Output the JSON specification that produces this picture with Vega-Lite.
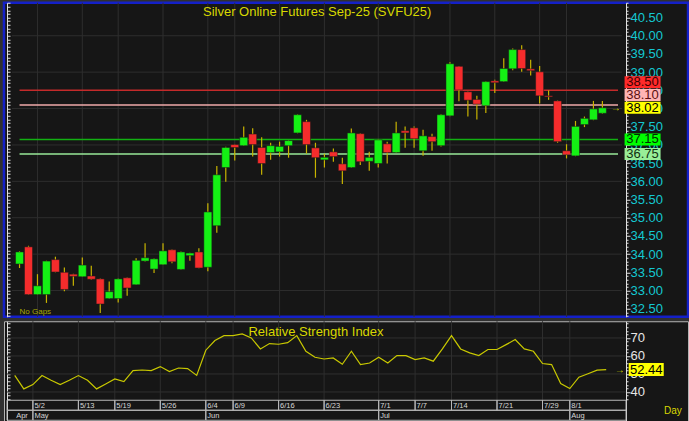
{
  "$schema": "https://vega.github.io/schema/vega-lite/v6.json",
  "background": "#303030",
  "padding": {"left": 2, "top": 0.75, "right": 3, "bottom": 0},
  "spacing": 1.5,
  "config": {
    "view": {"stroke": null},
    "axis": {"labelFont": "Liberation Sans"},
    "text": {"font": "Liberation Sans"}
  },
  "datasets": {
    "candles": [
      {"i":0,"o":33.73,"h":34.08,"l":33.62,"c":34.06},
      {"i":1,"o":34.20,"h":34.23,"l":32.88,"c":32.89},
      {"i":2,"o":32.89,"h":33.45,"l":32.88,"c":33.13},
      {"i":3,"o":32.89,"h":33.82,"l":32.66,"c":33.81},
      {"i":4,"o":33.85,"h":33.93,"l":33.50,"c":33.51},
      {"i":5,"o":33.50,"h":33.63,"l":32.98,"c":33.03},
      {"i":6,"o":33.45,"h":33.46,"l":33.13,"c":33.39},
      {"i":7,"o":33.38,"h":33.91,"l":33.37,"c":33.70},
      {"i":8,"o":33.40,"h":33.68,"l":33.30,"c":33.31},
      {"i":9,"o":33.32,"h":33.33,"l":32.38,"c":32.63},
      {"i":10,"o":32.78,"h":33.25,"l":32.77,"c":32.97},
      {"i":11,"o":32.78,"h":33.33,"l":32.67,"c":33.32},
      {"i":12,"o":33.35,"h":33.36,"l":32.86,"c":33.07},
      {"i":13,"o":33.16,"h":33.89,"l":33.15,"c":33.83},
      {"i":14,"o":33.81,"h":34.30,"l":33.80,"c":33.90},
      {"i":15,"o":33.59,"h":33.88,"l":33.48,"c":33.87},
      {"i":16,"o":33.71,"h":34.30,"l":33.70,"c":34.09},
      {"i":17,"o":34.12,"h":34.13,"l":33.75,"c":33.79},
      {"i":18,"o":33.58,"h":34.07,"l":33.57,"c":34.06},
      {"i":19,"o":33.96,"h":34.04,"l":33.82,"c":34.03},
      {"i":20,"o":34.06,"h":34.16,"l":33.61,"c":33.62},
      {"i":21,"o":33.64,"h":35.40,"l":33.53,"c":35.16},
      {"i":22,"o":34.78,"h":36.42,"l":34.59,"c":36.18},
      {"i":23,"o":36.38,"h":36.95,"l":35.99,"c":36.93},
      {"i":24,"o":37.01,"h":37.02,"l":36.57,"c":36.93},
      {"i":25,"o":36.98,"h":37.51,"l":36.97,"c":37.21},
      {"i":26,"o":37.30,"h":37.46,"l":36.68,"c":37.01},
      {"i":27,"o":36.93,"h":37.21,"l":36.18,"c":36.49},
      {"i":28,"o":36.79,"h":37.06,"l":36.59,"c":36.98},
      {"i":29,"o":36.81,"h":37.09,"l":36.68,"c":36.96},
      {"i":30,"o":36.98,"h":37.13,"l":36.65,"c":37.12},
      {"i":31,"o":37.33,"h":37.84,"l":37.32,"c":37.83},
      {"i":32,"o":37.64,"h":37.69,"l":36.76,"c":37.01},
      {"i":33,"o":36.92,"h":37.06,"l":36.10,"c":36.65},
      {"i":34,"o":36.59,"h":36.76,"l":36.38,"c":36.66},
      {"i":35,"o":36.81,"h":36.90,"l":36.54,"c":36.68},
      {"i":36,"o":36.48,"h":36.65,"l":35.93,"c":36.29},
      {"i":37,"o":36.38,"h":37.45,"l":36.37,"c":37.33},
      {"i":38,"o":37.31,"h":37.32,"l":36.45,"c":36.54},
      {"i":39,"o":36.55,"h":36.81,"l":36.29,"c":36.66},
      {"i":40,"o":36.49,"h":37.15,"l":36.38,"c":37.14},
      {"i":41,"o":37.03,"h":37.09,"l":36.49,"c":36.79},
      {"i":42,"o":36.79,"h":37.64,"l":36.78,"c":37.33},
      {"i":43,"o":37.39,"h":37.51,"l":36.92,"c":37.33},
      {"i":44,"o":37.47,"h":37.51,"l":36.92,"c":37.17},
      {"i":45,"o":36.84,"h":37.42,"l":36.70,"c":37.25},
      {"i":46,"o":37.23,"h":37.31,"l":36.84,"c":37.09},
      {"i":47,"o":36.98,"h":37.84,"l":36.96,"c":37.83},
      {"i":48,"o":37.80,"h":39.27,"l":37.79,"c":39.23},
      {"i":49,"o":39.16,"h":39.17,"l":38.20,"c":38.51},
      {"i":50,"o":38.46,"h":38.47,"l":37.78,"c":38.23},
      {"i":51,"o":38.25,"h":38.35,"l":37.70,"c":38.12},
      {"i":52,"o":38.08,"h":38.75,"l":37.88,"c":38.74},
      {"i":53,"o":38.76,"h":38.79,"l":38.43,"c":38.71},
      {"i":54,"o":38.74,"h":39.38,"l":38.73,"c":39.10},
      {"i":55,"o":39.09,"h":39.65,"l":39.05,"c":39.62},
      {"i":56,"o":39.62,"h":39.74,"l":39.01,"c":39.10},
      {"i":57,"o":39.09,"h":39.34,"l":38.91,"c":39.04},
      {"i":58,"o":39.01,"h":39.17,"l":38.14,"c":38.35},
      {"i":59,"o":38.35,"h":38.50,"l":38.24,"c":38.32},
      {"i":60,"o":38.21,"h":38.22,"l":37.06,"c":37.09},
      {"i":61,"o":36.84,"h":37.02,"l":36.63,"c":36.73},
      {"i":62,"o":36.70,"h":37.66,"l":36.69,"c":37.51},
      {"i":63,"o":37.56,"h":37.78,"l":37.49,"c":37.73},
      {"i":64,"o":37.69,"h":38.21,"l":37.68,"c":37.99},
      {"i":65,"o":37.87,"h":38.21,"l":37.86,"c":38.02}
    ],
    "rsi": [
      {"i":0,"v":49.2},{"i":1,"v":41.7},{"i":2,"v":44.1},{"i":3,"v":49.1},{"i":4,"v":46.5},
      {"i":5,"v":44.1},{"i":6,"v":46.5},{"i":7,"v":49.1},{"i":8,"v":46.5},{"i":9,"v":41.7},
      {"i":10,"v":44.4},{"i":11,"v":47.2},{"i":12,"v":45.8},{"i":13,"v":51.9},{"i":14,"v":52.2},
      {"i":15,"v":51.9},{"i":16,"v":54.1},{"i":17,"v":51.3},{"i":18,"v":53.3},{"i":19,"v":53.0},
      {"i":20,"v":49.2},{"i":21,"v":63.2},{"i":22,"v":68.6},{"i":23,"v":71.3},{"i":24,"v":71.3},
      {"i":25,"v":72.2},{"i":26,"v":70.0},{"i":27,"v":63.9},{"i":28,"v":66.9},{"i":29,"v":66.5},
      {"i":30,"v":67.4},{"i":31,"v":71.3},{"i":32,"v":62.6},{"i":33,"v":59.3},{"i":34,"v":58.3},
      {"i":35,"v":58.9},{"i":36,"v":55.4},{"i":37,"v":62.6},{"i":38,"v":55.2},{"i":39,"v":56.1},
      {"i":40,"v":59.3},{"i":41,"v":56.1},{"i":42,"v":60.2},{"i":43,"v":60.2},{"i":44,"v":58.0},
      {"i":45,"v":58.9},{"i":46,"v":57.1},{"i":47,"v":63.9},{"i":48,"v":71.3},{"i":49,"v":63.9},
      {"i":50,"v":61.7},{"i":51,"v":60.2},{"i":52,"v":63.6},{"i":53,"v":63.6},{"i":54,"v":66.3},
      {"i":55,"v":69.1},{"i":56,"v":63.9},{"i":57,"v":62.6},{"i":58,"v":55.8},{"i":59,"v":55.2},
      {"i":60,"v":44.7},{"i":61,"v":41.9},{"i":62,"v":48.2},{"i":63,"v":50.1},{"i":64,"v":52.1},
      {"i":65,"v":52.44}
    ],
    "dates": [
      {"row":"d","start":-0.846,"end":2,"li":0,"label":""},
      {"row":"d","start":2,"end":7,"li":2,"label":"5/2"},
      {"row":"d","start":7,"end":11,"li":7,"label":"5/13"},
      {"row":"d","start":11,"end":16,"li":11,"label":"5/19"},
      {"row":"d","start":16,"end":21,"li":16,"label":"5/26"},
      {"row":"d","start":21,"end":24,"li":21,"label":"6/4"},
      {"row":"d","start":24,"end":29,"li":24,"label":"6/9"},
      {"row":"d","start":29,"end":34,"li":29,"label":"6/16"},
      {"row":"d","start":34,"end":40,"li":34,"label":"6/23"},
      {"row":"d","start":40,"end":44,"li":40,"label":"7/1"},
      {"row":"d","start":44,"end":48,"li":44,"label":"7/7"},
      {"row":"d","start":48,"end":53,"li":48,"label":"7/14"},
      {"row":"d","start":53,"end":58,"li":53,"label":"7/21"},
      {"row":"d","start":58,"end":61,"li":58,"label":"7/29"},
      {"row":"d","start":61,"end":67.18,"li":61,"label":"8/1"},
      {"row":"m","start":-0.846,"end":2,"li":0,"label":"Apr"},
      {"row":"m","start":2,"end":21,"li":2,"label":"May"},
      {"row":"m","start":21,"end":40,"li":21,"label":"Jun"},
      {"row":"m","start":40,"end":61,"li":40,"label":"Jul"},
      {"row":"m","start":61,"end":67.18,"li":61,"label":"Aug"}
    ],
    "gridP": [{"p":33},{"p":34},{"p":35},{"p":36},{"p":37},{"p":38},{"p":39},{"p":40}],
    "gridR": [{"v":40},{"v":50},{"v":60},{"v":70}],
    "levels": [
      {"name":"R2","v":38.50},
      {"name":"R1","v":38.10},
      {"name":"Last","v":38.02},
      {"name":"S1","v":37.15},
      {"name":"S2","v":36.75}
    ],
    "titles": [
      {"panel":"main","text":"Silver  Online  Futures  Sep-25  (SVFU25)"},
      {"panel":"rsi","text":"Relative  Strength  Index"}
    ]
  },
  "resolve": {"scale": {"x": "independent", "y": "independent", "color": "independent", "fill": "independent", "stroke": "independent"}},
  "vconcat": [
    {
      "width": 684,
      "height": 314,
      "view": {"fill": "#161616", "stroke": "#1420C8", "strokeWidth": 2.5},
      "resolve": {"axis": {"y": "independent"}},
      "layer": [
        {
          "data": {"name": "gridP"},
          "mark": {"type": "rule", "color": "#2E2E2E", "strokeWidth": 1},
          "encoding": {
            "y": {"field": "p", "type": "quantitative",
              "scale": {"domain": [32.2802, 40.9066], "nice": false, "zero": false},
              "axis": {"orient": "right", "offset": -62, "title": null, "grid": false,
                "values": [32.5,33.0,33.5,34.0,34.5,35.0,35.5,36.0,36.5,37.0,37.5,38.0,38.5,39.0,39.5,40.0,40.5],
                "format": ".2f",
                "labelColor": "#14C8D2", "labelFontSize": 13, "labelPadding": 0, "labelOverlap": false, "labelFlush": false, "labelBound": false,
                "tickSize": 4, "tickColor": "#E0E0E0", "domainColor": "#E0E0E0", "domainWidth": 1}},
            "x": {"datum": -0.846, "type": "quantitative", "scale": {"domain": [-1.1758, 73.989], "nice": false, "zero": false}, "axis": null},
            "x2": {"datum": 67.18}
          }
        },
        {
          "data": {"name": "dates"},
          "transform": [{"filter": "datum.row == 'd' && datum.label != ''"}],
          "mark": {"type": "rule", "color": "#2E2E2E", "strokeWidth": 1},
          "encoding": {"x": {"field": "li", "type": "quantitative"}}
        },
        {
          "data": {"name": "levels"},
          "transform": [{"filter": "datum.name != 'Last'"}],
          "mark": {"type": "rule", "strokeWidth": 1.5},
          "encoding": {
            "y": {"field": "v", "type": "quantitative",
              "axis": {"orient": "right", "offset": -62, "title": null, "grid": false, "labels": false, "domain": false,
                "values": [32.3,32.4,32.6,32.7,32.8,32.9,33.1,33.2,33.3,33.4,33.6,33.7,33.8,33.9,34.1,34.2,34.3,34.4,34.6,34.7,34.8,34.9,35.1,35.2,35.3,35.4,35.6,35.7,35.8,35.9,36.1,36.2,36.3,36.4,36.6,36.7,36.8,36.9,37.1,37.2,37.3,37.4,37.6,37.7,37.8,37.9,38.1,38.2,38.3,38.4,38.6,38.7,38.8,38.9,39.1,39.2,39.3,39.4,39.6,39.7,39.8,39.9,40.1,40.2,40.3,40.4,40.6,40.7,40.8,40.9],
                "tickSize": 2, "tickColor": "#E0E0E0"}},
            "x": {"datum": 0},
            "x2": {"datum": 66.74},
            "stroke": {"field": "name", "type": "nominal", "legend": null,
              "scale": {"domain": ["R2","R1","S1","S2"], "range": ["#C42A2A","#F0AAAA","#12B012","#98E898"]}}
          }
        },
        {
          "data": {"name": "candles"},
          "mark": {"type": "rule", "color": "#C8B400", "strokeWidth": 1.2},
          "encoding": {
            "x": {"field": "i", "type": "quantitative"},
            "y": {"field": "l", "type": "quantitative",
              "axis": {"orient": "left", "offset": -3, "title": null, "grid": false, "labels": false,
                "values": [32.3,32.4,32.5,32.6,32.7,32.8,32.9,33.0,33.1,33.2,33.3,33.4,33.5,33.6,33.7,33.8,33.9,34.0,34.1,34.2,34.3,34.4,34.5,34.6,34.7,34.8,34.9,35.0,35.1,35.2,35.3,35.4,35.5,35.6,35.7,35.8,35.9,36.0,36.1,36.2,36.3,36.4,36.5,36.6,36.7,36.8,36.9,37.0,37.1,37.2,37.3,37.4,37.5,37.6,37.7,37.8,37.9,38.0,38.1,38.2,38.3,38.4,38.5,38.6,38.7,38.8,38.9,39.0,39.1,39.2,39.3,39.4,39.5,39.6,39.7,39.8,39.9,40.0,40.1,40.2,40.3,40.4,40.5,40.6,40.7,40.8,40.9],
                "tickSize": -3, "tickColor": "#E0E0E0", "domainColor": "#E0E0E0"}},
            "y2": {"field": "h"}
          }
        },
        {
          "data": {"name": "candles"},
          "mark": {"type": "bar", "width": 8, "orient": "vertical", "stroke": "#1A1A1A", "strokeWidth": 0.5},
          "encoding": {
            "x": {"field": "i", "type": "quantitative"},
            "y": {"field": "o", "type": "quantitative", "axis": null},
            "y2": {"field": "c"},
            "color": {"condition": {"test": "datum.c >= datum.o", "value": "#14F014"}, "value": "#F52C2C"}
          }
        },
        {
          "data": {"name": "levels"},
          "transform": [{"filter": "datum.name == 'R2'"}],
          "layer": [
            {"mark": {"type": "tick", "orient": "horizontal", "size": 36, "thickness": 12, "yOffset": -8, "opacity": 1},
             "encoding": {"x": {"datum": 69.48}, "y": {"field": "v", "type": "quantitative", "axis": null},
               "color": {"field": "name", "type": "nominal", "legend": null, "scale": {"domain": ["R2","R1","Last","S1","S2"], "range": ["#FF2A2A","#FFB4B4","#FFFF00","#00FF00","#98EE98"]}}}},
            {"mark": {"type": "text", "yOffset": -8, "fontSize": 13, "align": "center", "baseline": "middle"},
             "encoding": {"x": {"datum": 69.48}, "y": {"field": "v", "type": "quantitative", "axis": null},
               "text": {"field": "v", "type": "quantitative", "format": ".2f"},
               "fill": {"field": "name", "type": "nominal", "legend": null, "scale": {"domain": ["R2","R1","Last","S1","S2"], "range": ["#3A0000","#5A1010","#000000","#003000","#103010"]}}}}
          ]
        },
        {
          "data": {"name": "levels"},
          "transform": [{"filter": "datum.name == 'R1'"}],
          "layer": [
            {"mark": {"type": "tick", "orient": "horizontal", "size": 36, "thickness": 12, "yOffset": -10, "opacity": 1},
             "encoding": {"x": {"datum": 69.48}, "y": {"field": "v", "type": "quantitative", "axis": null},
               "color": {"field": "name", "type": "nominal", "legend": null}}},
            {"mark": {"type": "text", "yOffset": -10, "fontSize": 13, "align": "center", "baseline": "middle"},
             "encoding": {"x": {"datum": 69.48}, "y": {"field": "v", "type": "quantitative", "axis": null},
               "text": {"field": "v", "type": "quantitative", "format": ".2f"},
               "fill": {"field": "name", "type": "nominal", "legend": null}}}
          ]
        },
        {
          "data": {"name": "levels"},
          "transform": [{"filter": "datum.name == 'Last' || datum.name == 'S1' || datum.name == 'S2'"}],
          "layer": [
            {"mark": {"type": "tick", "orient": "horizontal", "size": 36, "thickness": 12, "opacity": 1},
             "encoding": {"x": {"datum": 69.48}, "y": {"field": "v", "type": "quantitative", "axis": null},
               "color": {"field": "name", "type": "nominal", "legend": null}}},
            {"mark": {"type": "text", "fontSize": 13, "align": "center", "baseline": "middle"},
             "encoding": {"x": {"datum": 69.48}, "y": {"field": "v", "type": "quantitative", "axis": null},
               "text": {"field": "v", "type": "quantitative", "format": ".2f"},
               "fill": {"field": "name", "type": "nominal", "legend": null}}}
          ]
        },
        {
          "data": {"name": "levels"},
          "transform": [{"filter": "datum.name == 'Last'"}],
          "mark": {"type": "text", "text": "→", "fontSize": 10, "color": "#D8D800", "align": "center", "baseline": "middle"},
          "encoding": {"x": {"datum": 66.5}, "y": {"field": "v", "type": "quantitative", "axis": null}}
        },
        {
          "data": {"name": "titles"},
          "transform": [{"filter": "datum.panel == 'main'"}],
          "mark": {"type": "text", "fontSize": 13, "color": "#D8D800", "align": "center", "baseline": "alphabetic"},
          "encoding": {"x": {"datum": 33.19}, "y": {"datum": 40.536, "axis": null}, "text": {"field": "text", "type": "nominal"}}
        },
        {
          "data": {"values": [{}]},
          "mark": {"type": "text", "text": "No  Gaps", "fontSize": 8, "color": "#A8A800", "align": "left", "baseline": "alphabetic"},
          "encoding": {"x": {"datum": 0}, "y": {"datum": 32.349, "axis": null}}
        }
      ]
    },
    {
      "width": 684,
      "height": 101,
      "view": {"fill": "#161616", "stroke": "#B4B4B4", "strokeWidth": 1},
      "resolve": {"scale": {"y": "independent"}, "axis": {"y": "independent"}},
      "layer": [
        {
          "resolve": {"axis": {"y": "independent"}},
          "layer": [
            {
              "data": {"name": "gridR"},
              "mark": {"type": "rule", "color": "#2E2E2E", "strokeWidth": 1},
              "encoding": {
                "y": {"field": "v", "type": "quantitative",
                  "scale": {"domain": [23.17, 79.28], "nice": false, "zero": false},
                  "axis": {"orient": "right", "offset": -62, "title": null, "grid": false,
                    "values": [40,50,60,70],
                    "labelColor": "#E6E6E6", "labelFontSize": 13, "labelPadding": 0, "labelOverlap": false, "labelFlush": false, "labelBound": false,
                    "tickSize": 4, "tickColor": "#E0E0E0", "domainColor": "#E0E0E0"}},
                "x": {"datum": -0.846, "type": "quantitative", "scale": {"domain": [-1.1758, 73.989], "nice": false, "zero": false}, "axis": null},
                "x2": {"datum": 67.18}
              }
            },
            {
              "data": {"name": "dates"},
              "transform": [{"filter": "datum.row == 'd' && datum.label != ''"}],
              "mark": {"type": "rule", "color": "#2E2E2E", "strokeWidth": 1},
              "encoding": {"x": {"field": "li", "type": "quantitative"},
                "y": {"datum": 79.28, "axis": {"orient": "right", "offset": -62, "title": null, "grid": false, "labels": false, "domain": false,
                  "values": [36,38,42,44,46,48,52,54,56,58,62,64,66,68,72,74,76,78], "tickSize": 2, "tickColor": "#E0E0E0"}},
                "y2": {"datum": 35.39}}
            },
            {
              "data": {"name": "rsi"},
              "mark": {"type": "line", "color": "#C8C800", "strokeWidth": 1.2},
              "encoding": {"x": {"field": "i", "type": "quantitative"},
                "y": {"field": "v", "type": "quantitative", "axis": {"orient": "left", "offset": -3, "title": null, "grid": false, "labels": false,
                  "values": [36,38,40,42,44,46,48,50,52,54,56,58,60,62,64,66,68,70,72,74,76,78], "tickSize": -3, "tickColor": "#E0E0E0", "domainColor": "#E0E0E0"}}}
            },
            {
              "data": {"name": "rsi"},
              "transform": [{"filter": "datum.i == 65"}],
              "layer": [
                {"mark": {"type": "tick", "orient": "horizontal", "size": 35, "thickness": 13, "color": "#FFFF00", "opacity": 1},
                 "encoding": {"x": {"datum": 69.4}, "y": {"field": "v", "type": "quantitative", "axis": null}}},
                {"mark": {"type": "text", "fontSize": 13, "align": "center", "baseline": "middle", "color": "#000000"},
                 "encoding": {"x": {"datum": 69.4}, "y": {"field": "v", "type": "quantitative", "axis": null}, "text": {"field": "v", "type": "quantitative", "format": ".2f"}}},
                {"mark": {"type": "text", "text": "→", "fontSize": 10, "color": "#D8D800", "align": "center", "baseline": "middle"},
                 "encoding": {"x": {"datum": 66.5}, "y": {"field": "v", "type": "quantitative", "axis": null}}}
              ]
            },
            {
              "data": {"name": "titles"},
              "transform": [{"filter": "datum.panel == 'rsi'"}],
              "mark": {"type": "text", "fontSize": 13, "color": "#D8D800", "align": "center", "baseline": "alphabetic"},
              "encoding": {"x": {"datum": 33.11}, "y": {"datum": 71.22, "axis": null}, "text": {"field": "text", "type": "nominal"}}
            }
          ]
        },
        {
          "layer": [
            {
              "data": {"name": "dates"},
              "mark": {"type": "rect", "fill": "transparent", "stroke": "#B8B8B8", "strokeWidth": 1},
              "encoding": {
                "x": {"field": "start", "type": "quantitative"},
                "x2": {"field": "end"},
                "y": {"field": "row", "type": "ordinal", "scale": {"domain": ["d","m"], "range": [79, 99], "paddingInner": 0, "paddingOuter": 0}, "axis": null}
              }
            },
            {
              "data": {"name": "dates"},
              "mark": {"type": "text", "fontSize": 7.5, "color": "#D8D8D8", "align": "left", "baseline": "middle", "dx": 1.5, "dy": 1},
              "encoding": {
                "x": {"field": "li", "type": "quantitative"},
                "y": {"field": "row", "type": "ordinal"},
                "text": {"field": "label", "type": "nominal"}
              }
            },
            {
              "data": {"values": [{}]},
              "mark": {"type": "text", "text": "Day", "fontSize": 10, "color": "#D8D800", "align": "left", "baseline": "middle", "dy": -4},
              "encoding": {"x": {"datum": 71.35}, "y": {"datum": "m", "type": "ordinal"}}
            }
          ]
        }
      ]
    }
  ]
}
